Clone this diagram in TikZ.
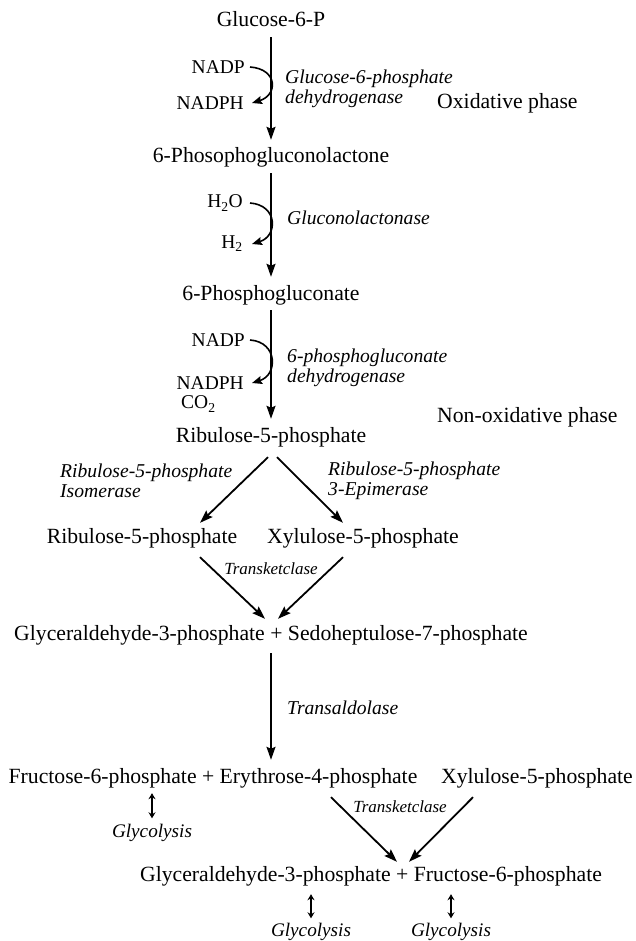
\documentclass[tikz,border=0pt]{standalone}
\usepackage{fontspec}
\setmainfont{Liberation Serif}
\usetikzlibrary{arrows.meta}

\begin{document}
\begin{tikzpicture}[x=1pt,y=-1pt,
  met/.style={inner sep=0pt,text height=15pt,text depth=5pt,font=\fontsize{21.7}{26}\selectfont},
  enz/.style={inner sep=0pt,anchor=west,align=left,font=\fontsize{19.6}{19.5}\selectfont\itshape},
  cof/.style={inner sep=0pt,anchor=east,font=\fontsize{19.5}{22}\selectfont},
  phase/.style={inner sep=0pt,anchor=west,font=\fontsize{21.7}{26}\selectfont},
  tkase/.style={inner sep=0pt,font=\fontsize{17}{20}\selectfont\itshape},
  glyc/.style={inner sep=0pt,text height=13pt,text depth=4pt,font=\fontsize{19.2}{22}\selectfont\itshape},
  rxn/.style={line width=1.8pt,-{Stealth[length=13pt,width=9pt,inset=2pt]},shorten <=5pt,shorten >=8pt},
  side/.style={line width=1.6pt,-{Stealth[length=10pt,width=8pt,inset=1.5pt]}},
  updown/.style={line width=1.5pt,{Stealth[length=6pt,width=7pt]}-{Stealth[length=6pt,width=7pt]}}]
\useasboundingbox (0,0) rectangle (635,941);

% oxidative phase
\node[met] (g6p) at (271,22) {Glucose-6-P};
\node[met] (pgl) at (271,158) {6-Phosophogluconolactone};
\node[met] (pg) at (271,295) {6-Phosphogluconate};
\node[met] (ru) at (271,437) {Ribulose-5-phosphate};
\node[phase] (oxph) at (437,103) {Oxidative phase};
\node[phase] (nonox) at (437,417) {Non-oxidative phase};

\node[cof] (nadp1) at (245,67) {NADP};
\node[cof] (nadph1) at (244,103) {NADPH};
\node[cof] (h2o) at (243,203) {H\textsubscript{2}O};
\node[cof] (h2) at (243,244) {H\textsubscript{2}};
\node[cof] (nadp2) at (245,340) {NADP};
\node[cof] (nadph2) at (244,383) {NADPH};
\node[cof,anchor=west] (co2) at (181,404) {CO\textsubscript{2}};

\node[enz] (g6pdh) at (285,89) {Glucose-6-phosphate\\dehydrogenase};
\node[enz] (glase) at (287,218) {Gluconolactonase};
\node[enz] (pgdh) at (287,368) {6-phosphogluconate\\dehydrogenase};

\draw[rxn] (g6p) -- (pgl);
\draw[rxn] (pgl) -- (pg);
\draw[rxn] (pg) -- (ru);
\draw[side] ([xshift=5pt]nadp1.east) .. controls +(28,2) and +(26,-8) .. ([xshift=8pt]nadph1.east);
\draw[side] ([xshift=7pt]h2o.east) .. controls +(28,2) and +(26,-8) .. ([xshift=9pt]h2.east);
\draw[side] ([xshift=5pt]nadp2.east) .. controls +(28,2) and +(26,-8) .. ([xshift=8pt]nadph2.east);

% non-oxidative phase
\node[enz] (rpi) at (60,481) {Ribulose-5-phosphate\\Isomerase};
\node[enz] (rpe) at (328,481) {Ribulose-5-phosphate\\3-Epimerase};
\node[met] (ru2) at (142,538) {Ribulose-5-phosphate};
\node[met] (xu) at (363,538) {Xylulose-5-phosphate};
\node[tkase] (tk1) at (271,569) {Transketclase};
\node[met] (sedo) at (271,635) {Glyceraldehyde-3-phosphate + Sedoheptulose-7-phosphate};
\node[enz] (tald) at (287,708) {Transaldolase};
\node[met] (fe) at (213,778) {Fructose-6-phosphate + Erythrose-4-phosphate};
\node[met] (xu2) at (537,778) {Xylulose-5-phosphate};
\node[glyc] (gly1) at (152,833) {Glycolysis};
\node[tkase] (tk2) at (400,807) {Transketclase};
\node[met] (gf) at (371,876) {Glyceraldehyde-3-phosphate + Fructose-6-phosphate};
\node[glyc] (gly2) at (311,932) {Glycolysis};
\node[glyc] (gly3) at (451,932) {Glycolysis};

\draw[rxn,shorten <=0pt,shorten >=0pt] ([xshift=-3pt,yshift=-10pt]ru.south) -- ([xshift=58pt,yshift=5pt]ru2.north);
\draw[rxn,shorten <=0pt,shorten >=0pt] ([xshift=6pt,yshift=-10pt]ru.south) -- ([xshift=-20pt,yshift=5pt]xu.north);
\draw[rxn,shorten <=0pt,shorten >=0pt] ([xshift=58pt,yshift=-9pt]ru2.south) -- ([xshift=-6pt,yshift=6pt]sedo.north);
\draw[rxn,shorten <=0pt,shorten >=0pt] ([xshift=-20pt,yshift=-9pt]xu.south) -- ([xshift=7pt,yshift=6pt]sedo.north);
\draw[rxn,shorten <=8pt] (sedo) -- (sedo |- fe.north);
\draw[rxn,shorten <=0pt,shorten >=0pt] ([xshift=118pt,yshift=-9pt]fe.south) -- ([xshift=26pt,yshift=4pt]gf.north);
\draw[rxn,shorten <=0pt,shorten >=0pt] ([xshift=-64pt,yshift=-9pt]xu2.south) -- ([xshift=38pt,yshift=4pt]gf.north);
\draw[updown,shorten <=6pt,shorten >=5pt] (gly1.north) -- (gly1.north |- fe.south);
\draw[updown,shorten <=5pt,shorten >=8pt] (gly2.north) -- (gly2.north |- gf.south);
\draw[updown,shorten <=5pt,shorten >=8pt] (gly3.north) -- (gly3.north |- gf.south);
\end{tikzpicture}
\end{document}
